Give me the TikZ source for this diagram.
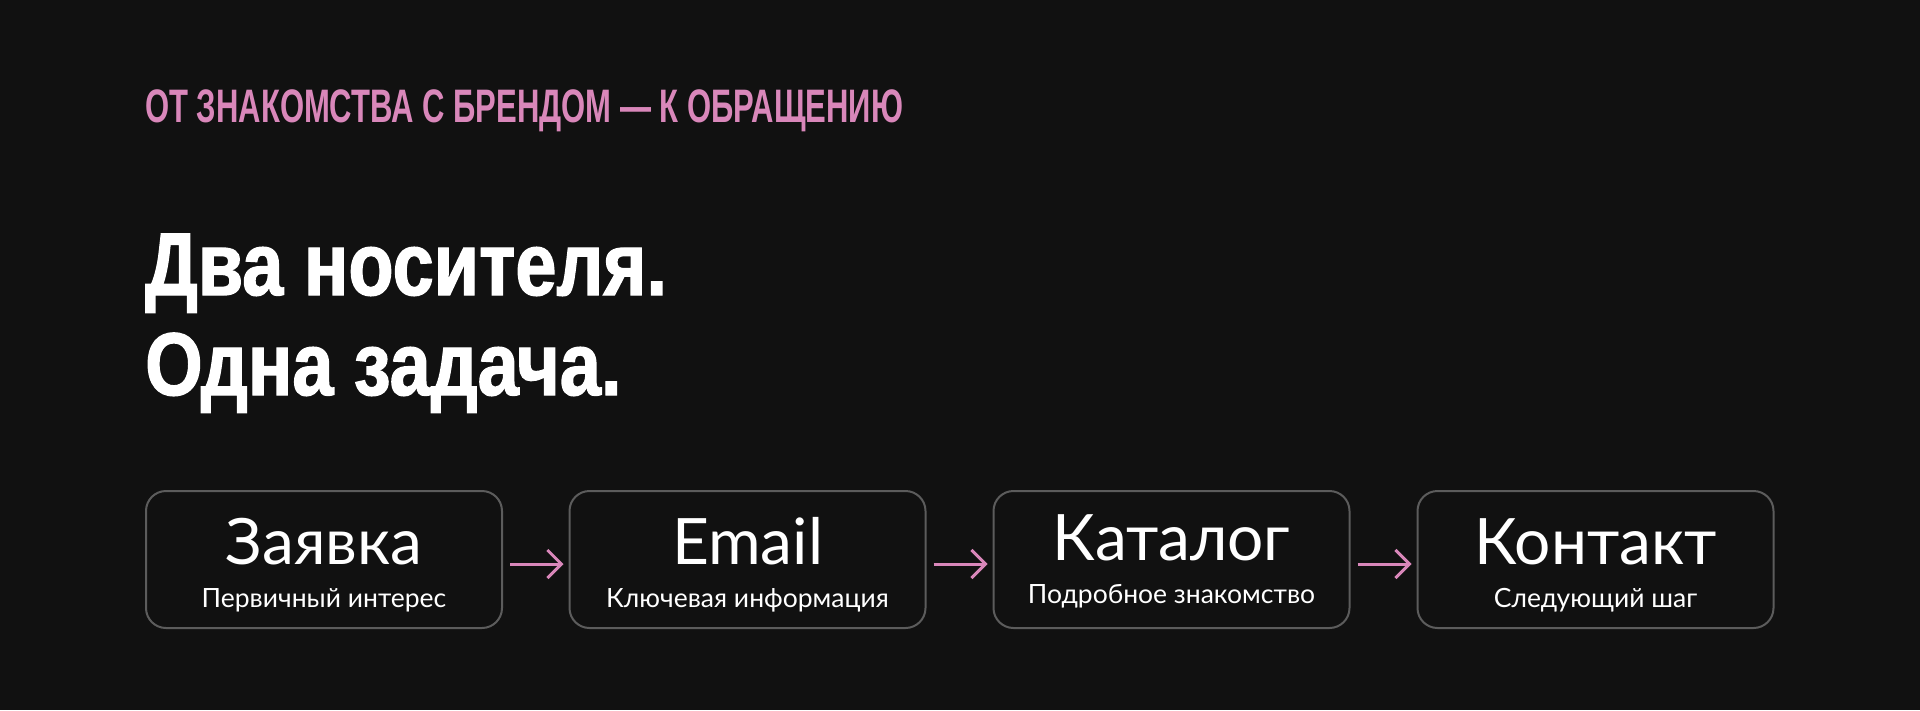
\documentclass[tikz,border=0pt]{standalone}
\usepackage{fontspec}
\setmainfont{Lato}
\newfontfamily\kickerfont[FakeStretch=0.66]{Liberation Sans}
\newfontfamily\headfont[FakeStretch=0.83, FakeBold=1.5]{Liberation Sans}
\usetikzlibrary{arrows.meta}
\definecolor{bg}{HTML}{111111}
\definecolor{rosa}{HTML}{D987BA}
\definecolor{kant}{HTML}{5C5C5C}

\begin{document}
\begin{tikzpicture}[x=1pt, y=-1pt,
  kort/.style={draw=kant, line width=2pt, rounded corners=20pt, minimum width=356pt, minimum height=137pt, inner sep=0pt},
  rubrik/.style={text=white, font=\fontsize{64}{70}\selectfont, anchor=base, inner sep=0pt},
  under/.style={text=white, font=\fontsize{26.5}{30}\selectfont, anchor=base, inner sep=0pt},
  pil/.style={draw=rosa, line width=3pt, -{Straight Barb[length=14pt, width=28pt]}}]

% bakgrund
\fill[bg] (0,0) rectangle (1920,710);

% rubriker
\node[anchor=base west, inner sep=0pt, text=rosa, font=\kickerfont\bfseries\fontsize{47}{50}\selectfont] (kicker) at (145,122) {ОТ ЗНАКОМСТВА С БРЕНДОМ — К ОБРАЩЕНИЮ};
\node[anchor=base west, inner sep=0pt, text=white, font=\headfont\bfseries\fontsize{89}{100}\selectfont] (rad1) at (145,295) {Два носителя.};
\node[anchor=base west, inner sep=0pt, text=white, font=\headfont\bfseries\fontsize{89}{100}\selectfont] (rad2) at (145,395) {Одна задача.};

% kort
\foreach \cx/\nm/\ttl/\sub/\ty/\uy in {324/zayavka/Заявка/Первичный интерес/564/607, 747.5/email/Email/Ключевая информация/564/607, 1171.5/katalog/Каталог/Подробное знакомство/560/603, 1595.5/kontakt/Контакт/Следующий шаг/564/607} {
\node[kort] (\nm) at (\cx,559.5) {};
\node[rubrik] (\nm-t) at (\cx,\ty) {\ttl};
\node[under] (\nm-u) at (\cx,\uy) {\sub};
}

% pilar
\foreach \a/\b in {zayavka/email, email/katalog, katalog/kontakt} {
\draw[pil] ([xshift=7pt, yshift=-4.5pt]\a.east) -- ([xshift=-5pt, yshift=-4.5pt]\b.west);
}

\end{tikzpicture}
\end{document}
